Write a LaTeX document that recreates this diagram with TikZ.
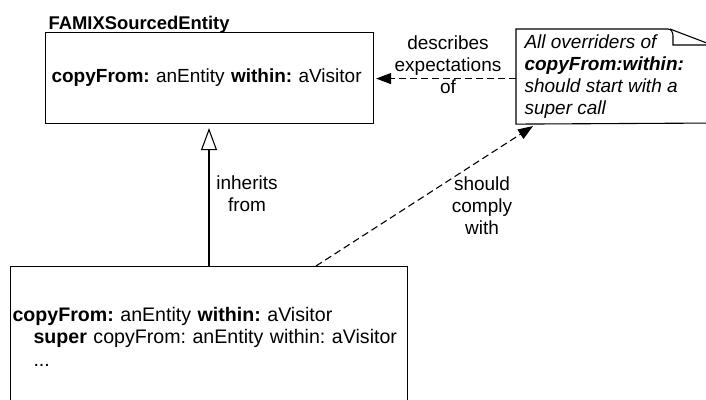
\documentclass[tikz,border=0pt]{standalone}
\usepackage{fontspec}
\setmainfont{Liberation Sans}
\usetikzlibrary{arrows.meta}
\frenchspacing

\begin{document}
\begin{tikzpicture}[x=1pt, y=-1pt, line width=1.1pt,
        every node/.style={font=\fontsize{19}{22}\selectfont},
        classbox/.style={draw, align=left, inner xsep=6pt},
        depends/.style={dash pattern=on 7pt off 4pt, -{Triangle[length=15pt, width=11pt]}},
        inherit/.style={-{Triangle[open, length=22pt, width=16pt]}}]
        \clip (0,0) rectangle (706,399);
        \node[anchor=base west, inner sep=0pt, font=\fontsize{18.4}{22}\selectfont] (name) at (48,29) {\textbf{FAMIXSourcedEntity}};
        \node[classbox, anchor=north west, text width=316pt, minimum height=91pt] (entity) at (45,32) {\textbf{copyFrom:} anEntity \textbf{within:} aVisitor};
        \node[classbox, anchor=north west, inner xsep=2pt, text width=393pt, minimum height=140pt, font=\fontsize{19.6}{22.5}\selectfont] (override) at (10,266) {\textbf{copyFrom:} anEntity \textbf{within:} aVisitor\\\hspace*{21pt}\textbf{super} copyFrom: anEntity within: aVisitor\\\hspace*{21pt}...};
        \node[anchor=north west, align=left, inner xsep=8pt, minimum height=94pt] (note) at (516,29) {\textit{All overriders of}\\\textbf{\textit{copyFrom:within:}}\\\textit{should start with a}\\\textit{super call}};
        \draw (720,123) -- (note.south west) -- (note.north west) -- (668,29) to[out=0, in=90] (673,36) -- (673,45) -- (720,45);
        \draw (670,29) -- (712,45);
        \node[align=center] (describes) at (448,65) {describes\\expectations\\of};
        \node[align=center] (inherits) at (247,194) {inherits\\from};
        \node[align=center] (comply) at (482,206) {should\\comply\\with};
        \draw[inherit] ([xshift=199pt]override.north west) -- ([xshift=164pt, yshift=-4pt]entity.south west);
        \draw[depends] ([yshift=-2pt]note.west) -- ([xshift=2pt, yshift=-2pt]note.west -| entity.east);
        \draw[depends] ([xshift=306pt]override.north west) -- ([xshift=17pt, yshift=-2pt]note.south west);
    \end{tikzpicture}
\end{document}
